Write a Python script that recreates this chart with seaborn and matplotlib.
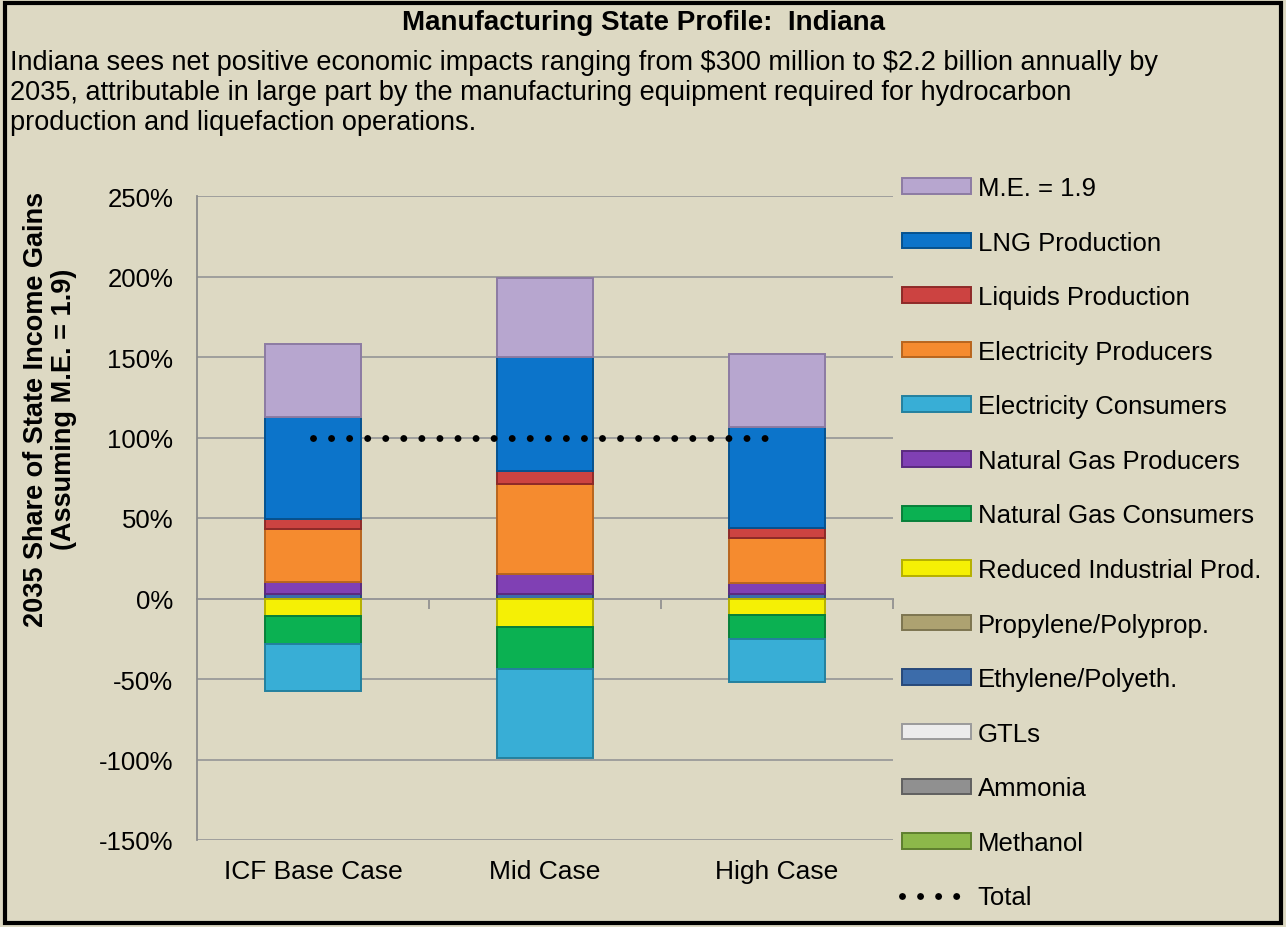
import matplotlib
matplotlib.use("Agg")
import matplotlib.pyplot as plt
import seaborn as sns
import numpy as np
from matplotlib.patches import Patch, Rectangle
from matplotlib.lines import Line2D

cases = ["ICF Base Case", "Mid Case", "High Case"]

# legend order (top to bottom)
labels = ["M.E. = 1.9", "LNG Production", "Liquids Production", "Electricity Producers",
          "Electricity Consumers", "Natural Gas Producers", "Natural Gas Consumers",
          "Reduced Industrial Prod.", "Propylene/Polyprop.", "Ethylene/Polyeth.",
          "GTLs", "Ammonia", "Methanol"]

me_19 = [45.5, 49, 45.5]
lng_production = [63, 71, 63]
liquids_production = [6.5, 8, 6]
elec_producers = [32.5, 56, 28]
elec_consumers = [-29.5, -55, -27]
ng_producers = [7.5, 12, 7]
ng_consumers = [-17, -26.5, -14.5]
reduced_industrial = [-11, -17.5, -10.5]
propylene = [0, 0, 0]
ethylene = [3, 3, 2.5]
gtls = [0, 0, 0]
ammonia = [0, 0, 0]
methanol = [0, 0, 0]
total = [100, 100, 100]

series = [me_19, lng_production, liquids_production, elec_producers, elec_consumers,
          ng_producers, ng_consumers, reduced_industrial, propylene, ethylene,
          gtls, ammonia, methanol]

colors = ["#B7A6CF", "#0C74CA", "#CC4341", "#F58B2F", "#38AED6", "#8040B4", "#0BB152",
          "#F5F005", "#ADA271", "#3C6CAA", "#ECECEC", "#909090", "#8CB84A"]
edges = ["#8C7BA3", "#05528F", "#8E2A28", "#B8651E", "#23809E", "#5A2A80", "#07803A",
         "#B5B000", "#7D7550", "#27497A", "#9A9A9A", "#606060", "#5E7F2E"]

bg = "#DDD9C3"
sns.set_theme(style="white")
plt.rcParams["font.family"] = ["Liberation Sans", "DejaVu Sans"]
plt.rcParams["text.color"] = "black"

fig = plt.figure(figsize=(12.86, 9.28), dpi=100, facecolor=bg)
ax = fig.add_axes([197 / 1286, 1 - 841 / 928, (893 - 197) / 1286, (841 - 197) / 928])
ax.set_facecolor(bg)

x = np.arange(len(cases))
width = 0.41
pos_bottom = np.zeros(len(cases))
neg_bottom = np.zeros(len(cases))
# Excel stacks series in reverse legend order
for vals, c, ec in list(zip(series, colors, edges))[::-1]:
    v = np.array(vals, dtype=float)
    b = np.where(v >= 0, pos_bottom, neg_bottom)
    ax.bar(x, v, width, bottom=b, color=c, edgecolor=ec, linewidth=1.4, zorder=3)
    pos_bottom += np.where(v > 0, v, 0)
    neg_bottom += np.where(v < 0, v, 0)

ax.plot(x, total, color="black", linewidth=5, linestyle=(0, (0.001, 2.6)),
        dash_capstyle="round", zorder=4)

ax.set_ylim(-150, 250)
ax.set_xlim(-0.5, 2.5)
ax.set_yticks(np.arange(-150, 251, 50))
ax.set_yticklabels([f"{t}%" for t in range(-150, 251, 50)], fontsize=18.5)
ax.set_xticks(x)
ax.set_xticklabels(cases, fontsize=19)
ax.tick_params(axis="x", length=0, pad=14, labelcolor="black")
ax.tick_params(axis="y", length=7, width=1.2, color="#8C8C8C", direction="out", pad=10,
               labelcolor="black")
ax.yaxis.grid(True, color="#9A9A9A", linewidth=1.3, zorder=0)
for s in ["top", "right", "bottom"]:
    ax.spines[s].set_visible(False)
ax.spines["left"].set_color("#8C8C8C")
ax.spines["left"].set_linewidth(1.3)

# category axis at 0%
sec = ax.secondary_xaxis(150 / 400)
sec.set_xticks([0.5, 1.5, 2.5])
sec.set_xticklabels([])
sec.tick_params(axis="x", length=7, width=1.2, color="#8C8C8C", direction="out")
sec.spines["bottom"].set_color("#8C8C8C")
sec.spines["bottom"].set_linewidth(1.3)

fig.text(50 / 1286, 1 - 409 / 928,
         "2035 Share of State Income Gains\n(Assuming M.E. = 1.9)",
         rotation=90, ha="center", va="center", fontsize=19.5, fontweight="bold",
         linespacing=1.1)

fig.text(0.5, 1 - 23 / 928, "Manufacturing State Profile:  Indiana",
         ha="center", va="center", fontsize=20, fontweight="bold")
fig.text(10 / 1286, 1 - 50 / 928,
         "Indiana sees net positive economic impacts ranging from \\$300 million to \\$2.2 billion annually by\n"
         "2035, attributable in large part by the manufacturing equipment required for hydrocarbon\n"
         "production and liquefaction operations.",
         ha="left", va="top", fontsize=19.5, linespacing=1.2)

handles = [Patch(facecolor=c, edgecolor=ec, linewidth=1.4) for c, ec in zip(colors, edges)]
handles.append(Line2D([0], [0], color="black", linewidth=5, linestyle=(0, (0.001, 2.6)),
                      dash_capstyle="round"))
leg = fig.legend(handles, labels + ["Total"], loc="upper left",
                 bbox_to_anchor=(902 / 1286, 1 - 177 / 928),
                 frameon=False, fontsize=18.5, handlelength=2.68, handleheight=0.55,
                 handletextpad=0.27, labelspacing=1.19, borderaxespad=0, borderpad=0)

fig.patches.append(Rectangle((0.004, 0.004), 0.992, 0.992, transform=fig.transFigure,
                             fill=False, edgecolor="black", linewidth=3))

fig.savefig("out.png", dpi=100, facecolor=bg)
